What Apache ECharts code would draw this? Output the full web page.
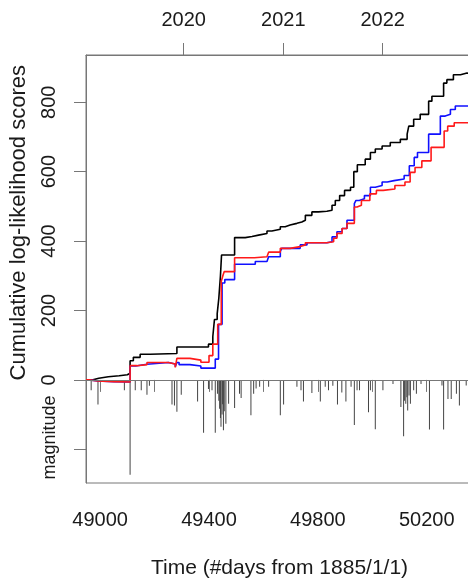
<!DOCTYPE html>
<html>
<head>
<meta charset="utf-8">
<script src="https://cdn.jsdelivr.net/npm/echarts@6/dist/echarts.min.js"></script>
<style>
  html, body { margin: 0; padding: 0; background: #fff; overflow: hidden; }
  #chart { width: 500px; height: 584px; }
</style>
</head>
<body>
<div id="chart"></div>
<script>
// Cumulative log-likelihood step series (day since 1885/1/1, value)
const blackT = [48948, 48970, 48995, 49030, 49070, 49100, 49110, 49122, 49147, 49184, 49282, 49398, 49414, 49420, 49430, 49436, 49442, 49446, 49494, 49533, 49558, 49582, 49613, 49631, 49662, 49680, 49698, 49723, 49741, 49754, 49778, 49802, 49833, 49852, 49864, 49880, 49898, 49920, 49932, 49945, 49974, 49993, 50011, 50036, 50066, 50103, 50128, 50134, 50152, 50176, 50207, 50219, 50262, 50274, 50298, 50324, 50348, 50370];
const blackV = [0, 5, 9, 12, 15, 19, 55, 65, 74, 76, 95, 103, 125, 174, 190, 235, 300, 360, 410, 413, 417, 422, 429, 434, 441, 446, 451, 455, 460, 474, 484, 486, 489, 503, 517, 531, 546, 555, 600, 620, 636, 655, 665, 674, 684, 693, 708, 731, 751, 765, 803, 817, 855, 865, 879, 884, 880, 880];

const redT = [48948, 48960, 48990, 49050, 49110, 49135, 49172, 49251, 49276, 49282, 49330, 49370, 49400, 49414, 49432, 49445, 49452, 49456, 49494, 49567, 49613, 49619, 49662, 49698, 49735, 49754, 49833, 49858, 49870, 49889, 49907, 49934, 49944, 49960, 49991, 50015, 50040, 50083, 50120, 50139, 50157, 50182, 50216, 50264, 50277, 50301, 50370];
const redV = [0, -3, -5, -6, 41, 44, 50, 46, 36, 62, 57, 51, 70, 103, 160, 284, 303, 312, 352, 355, 358, 368, 379, 384, 389, 395, 398, 408, 422, 436, 451, 498, 503, 517, 536, 546, 550, 560, 570, 598, 612, 631, 670, 717, 731, 741, 741];

const blueT = [48948, 48960, 48990, 49050, 49110, 49130, 49172, 49251, 49276, 49282, 49290, 49330, 49370, 49423, 49435, 49448, 49458, 49494, 49570, 49613, 49619, 49662, 49667, 49735, 49760, 49833, 49852, 49870, 49889, 49907, 49934, 49940, 49952, 49971, 49993, 50011, 50036, 50055, 50080, 50117, 50136, 50154, 50166, 50207, 50250, 50268, 50287, 50305, 50370];
const blueV = [0, -3, -5, -6, 40, 45, 50, 46, 38, 50, 44, 40, 34, 60, 160, 279, 289, 333, 341, 346, 355, 370, 379, 389, 395, 398, 412, 427, 436, 460, 508, 517, 522, 531, 555, 560, 570, 574, 579, 589, 617, 641, 655, 708, 760, 765, 779, 789, 789];

// Earthquake magnitude spikes (drawn downward, same vertical units)
const magT = [48967, 48992, 49089, 49110, 49129, 49151, 49172, 49181, 49264, 49273, 49282, 49298, 49358, 49380, 49398, 49411, 49423, 49431, 49436, 49439, 49442, 49444, 49448, 49450, 49453, 49456, 49462, 49472, 49494, 49512, 49518, 49554, 49564, 49573, 49586, 49619, 49662, 49674, 49723, 49738, 49747, 49778, 49809, 49827, 49839, 49855, 49872, 49888, 49903, 49922, 49934, 49944, 49953, 49986, 49993, 50011, 50039, 50076, 50105, 50115, 50118, 50123, 50127, 50130, 50135, 50140, 50152, 50162, 50179, 50210, 50256, 50262, 50278, 50290, 50309, 50320, 50345];
const magV = [-30, -71, -30, -273, -30, -30, -43, -17, -71, -74, -92, -43, -62, -152, -26, -30, -152, -40, -60, -83, -110, -135, -100, -70, -145, -90, -126, -69, -81, -40, -52, -102, -40, -25, -20, -20, -102, -71, -20, -30, -62, -38, -62, -20, -30, -17, -71, -36, -62, -20, -130, -30, -30, -93, -30, -142, -30, -12, -78, -162, -60, -69, -50, -88, -45, -69, -30, -40, -12, -143, -16, -143, -55, -55, -40, -74, -16];

// Axis ticks / labels
const dayTicks = [49000, 49200, 49400, 49600, 49800, 50000, 50200];
const dayLabels = [49000, 49400, 49800, 50200];
const yearTicks = [49307, 49673, 50038];
const yearLabels = ['2020', '2021', '2022'];
const yTicks = [-200, 0, 200, 400, 600, 800];
const yLabelVals = [-166, 0, 200, 400, 600, 800];

const zip = (a, b) => a.map((v, i) => [v, b[i]]);

const FONT = 'Liberation Sans, Arial, Helvetica, sans-serif';
const AX = '#777';
const TXT = '#1a1a1a';

const chart = echarts.init(document.getElementById('chart'), null, { renderer: 'canvas' });

chart.setOption({
  animation: false,
  backgroundColor: '#fff',
  grid: {
    left: 86, top: 55, right: 27, bottom: 97,
    show: true, borderColor: AX, borderWidth: 1, backgroundColor: 'transparent'
  },
  xAxis: [
    {
      type: 'value', position: 'bottom', min: 48948, max: 50370,
      axisLine: { show: true, lineStyle: { color: AX, width: 1 } },
      axisTick: { show: true, customValues: dayTicks, length: 12, lineStyle: { color: AX } },
      axisLabel: {
        customValues: dayLabels, margin: 27, fontSize: 20, color: TXT, fontFamily: FONT,
        formatter: v => String(v)
      },
      splitLine: { show: false },
      name: 'Time (#days from 1885/1/1)', nameLocation: 'middle', nameGap: 75,
      nameTextStyle: { fontSize: 21, color: TXT, fontFamily: FONT }
    },
    {
      type: 'value', position: 'top', min: 48948, max: 50370,
      axisLine: { show: true, lineStyle: { color: AX, width: 1 } },
      axisTick: { show: true, customValues: yearTicks, length: 12, lineStyle: { color: AX } },
      axisLabel: {
        customValues: yearTicks, margin: 25, fontSize: 20, color: TXT, fontFamily: FONT,
        formatter: v => yearLabels[yearTicks.indexOf(v)]
      },
      splitLine: { show: false }
    }
  ],
  yAxis: {
    type: 'value', min: -297, max: 936,
    axisLine: { show: true, lineStyle: { color: AX, width: 1 } },
    axisTick: { show: true, customValues: yTicks, length: 12, lineStyle: { color: AX } },
    axisLabel: {
      customValues: yLabelVals, rotate: 90, margin: 27, fontSize: 20, color: TXT, fontFamily: FONT,
      formatter: v => (v < 0 ? '{m|magnitude}' : String(v)),
      rich: { m: { fontSize: 18, color: TXT, fontFamily: FONT } }
    },
    splitLine: { show: false }
  },
  graphic: [
    {
      type: 'text', left: 8, top: 65, rotation: Math.PI / 2,
      style: {
        text: 'Cumulative log-likelihood scores', fontSize: 22, fill: TXT, fontFamily: FONT
      }
    }
  ],
  series: [
    {
      type: 'bar', name: 'magnitude', data: zip(magT, magV), barWidth: 1,
      itemStyle: { color: '#444' }, silent: true,
      markLine: {
        silent: true, symbol: 'none', label: { show: false },
        lineStyle: { color: AX, type: 'solid', width: 1 },
        data: [{ yAxis: 0 }]
      }
    },
    {
      type: 'line', name: 'black', step: 'end', data: zip(blackT, blackV), showSymbol: false,
      lineStyle: { color: '#000', width: 1.6 }, itemStyle: { color: '#000' }
    },
    {
      type: 'line', name: 'blue', step: 'end', data: zip(blueT, blueV), showSymbol: false,
      lineStyle: { color: '#1010ff', width: 1.6 }, itemStyle: { color: '#1010ff' }
    },
    {
      type: 'line', name: 'red', step: 'end', data: zip(redT, redV), showSymbol: false,
      lineStyle: { color: '#ff1a1a', width: 1.6 }, itemStyle: { color: '#ff1a1a' }
    }
  ]
});
</script>
</body>
</html>
